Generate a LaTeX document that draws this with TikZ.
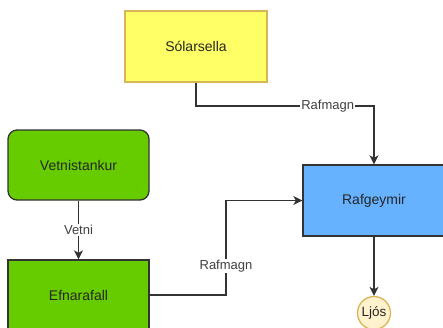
\documentclass[tikz,border=0pt]{standalone}
\usepackage{fontspec}
\setmainfont{Liberation Sans}
\usetikzlibrary{arrows.meta}
\definecolor{yel}{HTML}{FFFF66}
\definecolor{yelb}{HTML}{D6B656}
\definecolor{grn}{HTML}{66CC00}
\definecolor{blu}{HTML}{66B2FF}
\definecolor{crm}{HTML}{FFF2CC}
\definecolor{edge}{HTML}{333333}
\begin{document}
\begin{tikzpicture}[x=1pt,y=-1pt,
  box/.style={draw=edge,line width=1.3pt,inner sep=0pt,font=\fontsize{14}{16}\selectfont,text=black!85},
  conn/.style={draw=edge,line width=1.4pt,-{Stealth[length=9pt,width=9pt,inset=2.5pt]}},
  lbl/.style={fill=white,inner sep=1pt,font=\fontsize{13}{15}\selectfont,text=black!75}]
\useasboundingbox (0,0) rectangle (443,327);
\node[box,draw=yelb,fill=yel,minimum width=142pt,minimum height=71pt] (sol) at (196,46.5) {Sólarsella};
\node[box,fill=grn,rounded corners=9pt,minimum width=141pt,minimum height=70pt] (vet) at (78.5,165) {Vetnistankur};
\node[box,fill=grn,minimum width=141pt,minimum height=70pt] (efn) at (78.5,295) {Efnarafall};
\node[box,fill=blu,minimum width=142pt,minimum height=71pt] (raf) at (374,200.5) {Rafgeymir};
\node[box,draw=yelb,fill=crm,circle,minimum size=33pt,font=\fontsize{13.5}{15}\selectfont] (ljos) at (374,313) {Ljós};
\coordinate (c1) at (196,106);
\coordinate (c2) at (374,106);
\draw[conn] (sol.south) -- (c1) -- node[lbl,pos=0.74] {Rafmagn} (c2) -- (raf.north);
\draw[conn] (vet.south) -- node[lbl] {Vetni} (efn.north);
\coordinate (d1) at (226,295);
\coordinate (d2) at (226,200.5);
\draw[conn] (efn.east) -- (d1) -- node[lbl,pos=0.31] {Rafmagn} (d2) -- (raf.west);
\draw[conn] (raf.south) -- (ljos.north);
\end{tikzpicture}
\end{document}
